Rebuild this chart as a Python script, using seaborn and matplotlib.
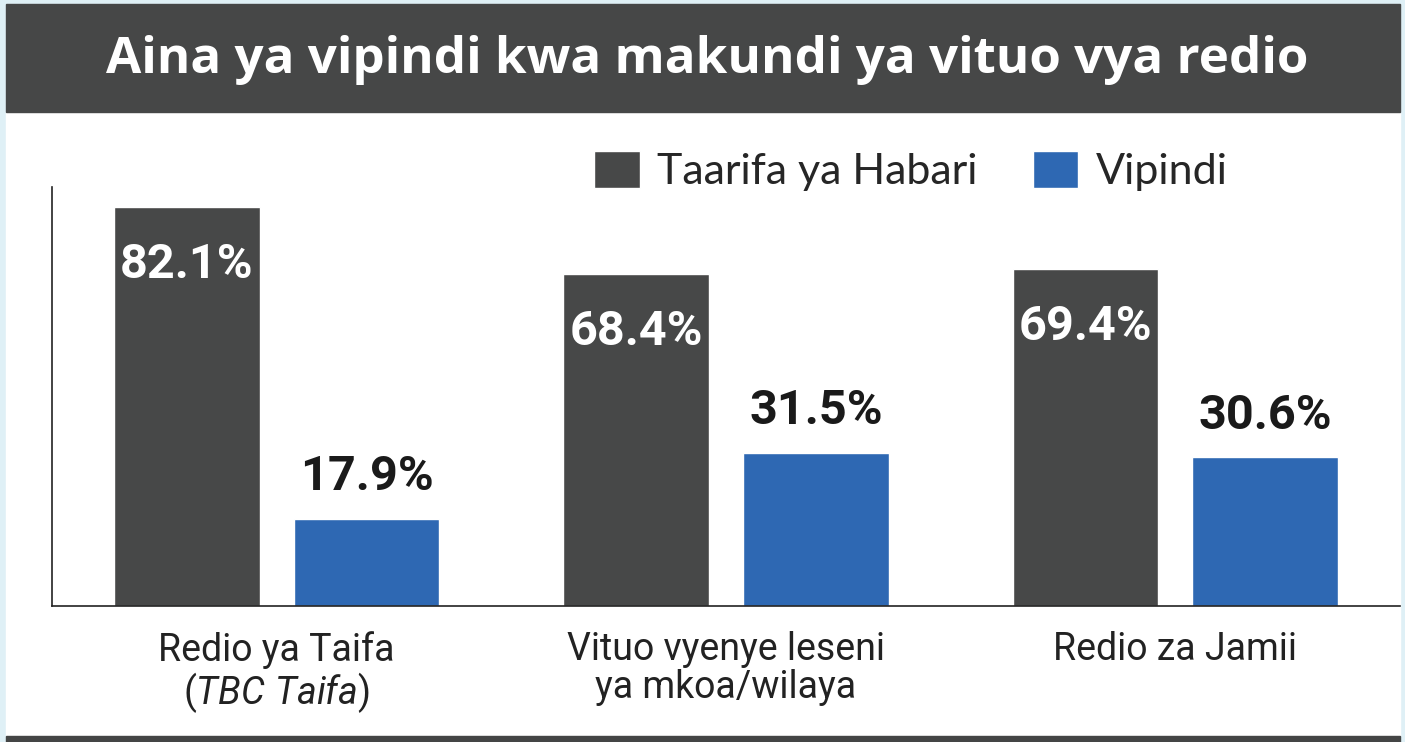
import pandas as pd
import matplotlib.pyplot as plt
import seaborn as sns
from matplotlib.patches import Rectangle

# Data
categories = ["Redio ya Taifa\n($\\it{TBC\\ Taifa}$)",
              "Vituo vyenye leseni\nya mkoa/wilaya",
              "Redio za Jamii"]
series = ["Taarifa ya Habari", "Vipindi"]
habari = [82.1, 68.4, 69.4]
vipindi = [17.9, 31.5, 30.6]

df = pd.DataFrame({
    "kundi": categories * 2,
    "aina": [series[0]] * 3 + [series[1]] * 3,
    "asilimia": habari + vipindi,
})

sns.set_style("white")
plt.rcParams["font.family"] = ["Roboto", "DejaVu Sans"]
plt.rcParams["mathtext.fontset"] = "custom"
plt.rcParams["mathtext.rm"] = "Roboto"
plt.rcParams["mathtext.it"] = "Roboto:italic"

dark = "#474848"
blue = "#2e68b3"

fig = plt.figure(figsize=(14.05, 7.42), dpi=100)
fig.patch.set_facecolor("#dff0f6")

# white panel, title bar, bottom strip
fig.add_artist(Rectangle((6 / 1405, 6 / 742), 1394 / 1405, 624 / 742,
                         transform=fig.transFigure, color="white", zorder=0))
fig.add_artist(Rectangle((6 / 1405, 1 - 112 / 742), 1394 / 1405, 108 / 742,
                         transform=fig.transFigure, color="#464747", zorder=1))
fig.add_artist(Rectangle((6 / 1405, 0), 1394 / 1405, 6 / 742,
                         transform=fig.transFigure, color="#444545", zorder=1))
fig.text(707 / 1405, 1 - 60 / 742, "Aina ya vipindi kwa makundi ya vituo vya redio",
         ha="center", va="center", color="white", fontsize=36.8, fontweight="bold",
         family=["Open Sans", "DejaVu Sans"])

ax = fig.add_axes([52 / 1405, 1 - 606 / 742, 1348 / 1405, 419 / 742])
ax.set_facecolor("none")
sns.barplot(data=df, x="kundi", y="asilimia", hue="aina", hue_order=series,
            palette=[dark, blue], width=0.8, gap=0.19, saturation=1, ax=ax)

ax.set_xlim(-0.5, 2.5)
ax.set_ylim(0, 86.2)
ax.set_xlabel("")
ax.set_ylabel("")
ax.set_yticks([])
ax.tick_params(axis="x", length=0, labelsize=27, labelcolor="#222222", pad=18)
for t in ax.get_xticklabels():
    t.set_linespacing(1.05)
sns.despine(ax=ax, top=True, right=True)
for s in ["left", "bottom"]:
    ax.spines[s].set_color("#222222")
    ax.spines[s].set_linewidth(1.2)

# value labels
for i, c in enumerate(ax.containers):
    for bar in c:
        h = bar.get_height()
        x = bar.get_x() + bar.get_width() / 2
        if i == 0:
            ax.annotate(f"{h:.1f}%", (x, h), xytext=(0, -42), textcoords="offset points",
                        ha="center", va="center", color="white", fontsize=35, fontweight="bold")
        else:
            ax.annotate(f"{h:.1f}%", (x, h), xytext=(0, 30), textcoords="offset points",
                        ha="center", va="center", color="#1a1a1a", fontsize=35, fontweight="bold")

ax.legend(loc="center", bbox_to_anchor=(911 / 1405, 1 - 171 / 742),
          bbox_transform=fig.transFigure, ncol=2, frameon=False,
          prop={"family": ["Lato", "DejaVu Sans"], "size": 31},
          handlelength=1.05, handleheight=0.95, handletextpad=0.4, columnspacing=1.3)

fig.savefig("out.png", dpi=100, facecolor=fig.get_facecolor())
